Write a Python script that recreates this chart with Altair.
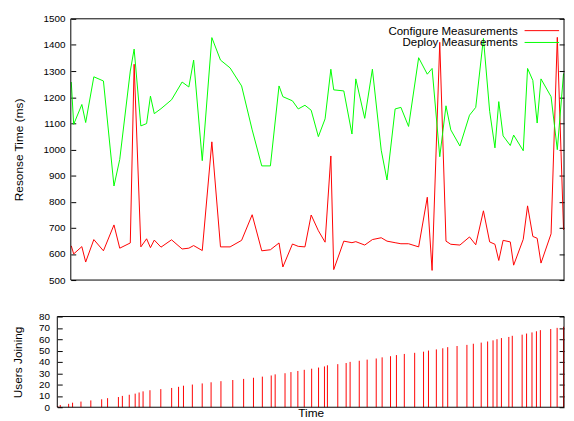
import altair as alt
import pandas as pd

FONT = "Liberation Sans"

# time at which each user joined (same time unit on both panels)
join_time = [0.5, 3, 11.5, 15.5, 24, 34, 45, 51, 62, 66,
             73, 79, 83, 87, 94, 105, 116, 123, 128, 137,
             147, 156, 166, 178, 189, 199, 208, 217, 221, 231,
             237, 244, 250.5, 258, 265, 271, 274, 284.5, 293, 297,
             306.3, 314.3, 323.5, 329.5, 338, 344, 352, 362.5, 371.5, 376.5,
             384.5, 391, 396, 405.5, 415.5, 422, 430, 436.5, 442, 446,
             450.5, 458, 461.5, 471.5, 476, 481.5, 486, 490, 500.5, 507, 513.5]

configure_ms = [631, 600, 628, 569, 655, 612, 711, 622, 642, 1326,
                627, 658, 624, 653, 626, 654, 619, 622, 632, 613,
                1029, 627, 627, 652, 750, 612, 616, 642, 550, 638,
                629, 627, 749, 689, 645, 975, 540, 649, 643, 647,
                634, 655, 662, 649, 643, 639, 639, 627, 817, 537,
                1410, 649, 637, 634, 665, 635, 765, 646, 637, 575,
                652, 646, 557, 656, 784, 667, 660, 565, 677, 1429, 692]

deploy_ms = [1258, 1096, 1172, 1103, 1278, 1262, 860, 962, 1300, 1384,
             1090, 1099, 1204, 1137, 1156, 1190, 1258, 1239, 1342, 957,
             1428, 1342, 1312, 1243, 1075, 937, 937, 1243, 1202, 1186,
             1155, 1169, 1150, 1049, 1117, 1307, 1228, 1224, 1059, 1270,
             1119, 1307, 997, 883, 1155, 1161, 1088, 1351, 1288, 1310,
             972, 1167, 1075, 1013, 1131, 1161, 1425, 1146, 1006, 1183,
             1052, 1015, 1055, 995, 1310, 1264, 1101, 1270, 1202, 999, 1291]

users_joined = list(range(1, len(join_time) + 1))

series_names = ["Configure Measurements", "Deploy Measurements"]
series_colors = ["#ff0000", "#00ff00"]
top_ticks = list(range(500, 1501, 100))
bottom_ticks = list(range(0, 81, 10))
time_domain = [0, 514]

df = pd.DataFrame({
    "time": join_time,
    "users": users_joined,
    series_names[0]: configure_ms,
    series_names[1]: deploy_ms,
})
long = df.melt(id_vars=["time", "users"], value_vars=series_names,
               var_name="series", value_name="ms")
legend_df = pd.DataFrame({"series": series_names})
frame_df = pd.DataFrame({"frame": [0]})

W = 514            # both panels share this width (bottom plot area)
TOP_INSET = 13.7   # top plot area starts this far right of the bottom one
TOP_H = 265
BOT_H = 92

top_xscale = alt.Scale(domain=time_domain, nice=False, zero=False, range=[TOP_INSET, W])
bot_xscale = alt.Scale(domain=time_domain, nice=False, zero=False)
top_yscale = alt.Scale(domain=[500, 1500], nice=False, zero=False)
bot_yscale = alt.Scale(domain=[0, 80], nice=False, zero=False)
color_scale = alt.Scale(domain=series_names, range=series_colors)

axis_common = dict(domain=False, tickSize=5, tickColor="black", tickWidth=1,
                   labelFont=FONT, labelFontSize=10, labelColor="black", format="d",
                   titleFont=FONT, titleFontSize=12, titleFontWeight="normal",
                   titleColor="black", grid=False)


def frame_layers(x_left):
    """Box around a plot area (gnuplot style border)."""
    base = alt.Chart(frame_df).mark_rule(color="black", strokeWidth=1)
    return [
        base.encode(x=alt.value(x_left), x2=alt.value("width"), y=alt.value(0)),
        base.encode(x=alt.value(x_left), x2=alt.value("width"), y=alt.value("height")),
        base.encode(x=alt.value(x_left), y=alt.value(0), y2=alt.value("height")),
        base.encode(x=alt.value("width"), y=alt.value(0), y2=alt.value("height")),
    ]


top_x = alt.X("time:Q", scale=top_xscale, axis=None)

top_lines = alt.Chart(long).mark_line(strokeWidth=1).encode(
    x=top_x,
    y=alt.Y("ms:Q", scale=top_yscale,
            axis=alt.Axis(orient="left", values=top_ticks, title="Resonse Time (ms)",
                          labelPadding=6, titlePadding=18, offset=-(TOP_INSET + 5),
                          **axis_common)),
    color=alt.Color("series:N", scale=color_scale, legend=None),
)
top_mirror = alt.Chart(long).mark_line(strokeOpacity=0).encode(
    x=top_x,
    y=alt.Y("ms:Q", scale=top_yscale,
            axis=alt.Axis(orient="right", values=top_ticks, labels=False, title=None,
                          offset=-5, **axis_common)),
    detail="series:N",
)

# key (top right, text left of the line sample, as in the original)
key_layers = []
for i, name in enumerate(series_names):
    row = legend_df.iloc[[i]]
    ypos = 12 + 12 * i
    key_layers.append(
        alt.Chart(row).mark_text(align="right", baseline="middle", font=FONT,
                                 fontSize=11.7, color="black").encode(
            text="series:N", x=alt.value(467), y=alt.value(ypos)))
    key_layers.append(
        alt.Chart(row).mark_rule(strokeWidth=1).encode(
            x=alt.value(474), x2=alt.value(509), y=alt.value(ypos),
            color=alt.Color("series:N", scale=color_scale, legend=None)))

top = alt.layer(top_lines, top_mirror, *frame_layers(TOP_INSET), *key_layers).resolve_axis(
    y="independent").properties(width=W, height=TOP_H)

bot_x = alt.X("time:Q", scale=bot_xscale,
              axis=alt.Axis(title="Time", labels=False, ticks=False, domain=False, grid=False,
                            titleFont=FONT, titleFontSize=12, titleFontWeight="normal",
                            titleColor="black", titlePadding=0))

bot_bars = alt.Chart(df).mark_rule(color="#ff0000", strokeWidth=1).encode(
    x=bot_x,
    y=alt.Y("users:Q", scale=bot_yscale,
            axis=alt.Axis(orient="left", values=bottom_ticks, title="Users Joining",
                          labelPadding=8, titlePadding=14, offset=-5, **axis_common)),
    y2=alt.datum(0),
)
bot_mirror = alt.Chart(df).mark_rule(strokeOpacity=0).encode(
    x=bot_x,
    y=alt.Y("users:Q", scale=bot_yscale,
            axis=alt.Axis(orient="right", values=bottom_ticks, labels=False, title=None,
                          offset=-5, **axis_common)),
    y2=alt.datum(0),
)

bottom = alt.layer(bot_bars, bot_mirror, *frame_layers(0)).resolve_axis(
    y="independent").properties(width=W, height=BOT_H)

chart = alt.vconcat(top, bottom, spacing=27).properties(
    padding={"left": 3, "top": 3, "right": 0, "bottom": 0}
).configure_view(strokeOpacity=0)

chart.save("out.html", embed_options={"renderer": "svg", "actions": False})
